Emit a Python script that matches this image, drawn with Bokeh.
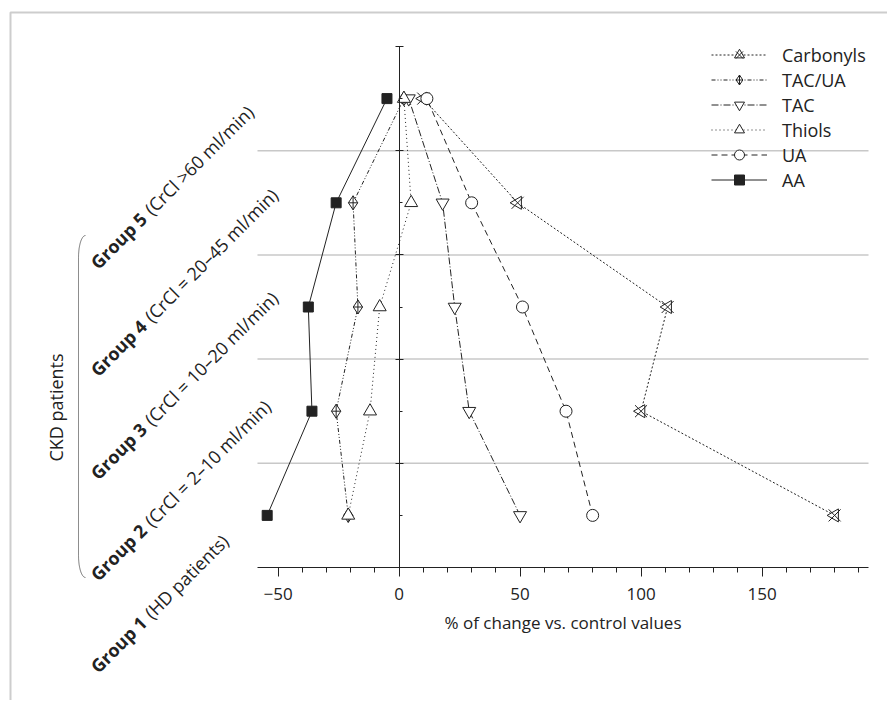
import numpy as np
from bokeh.plotting import figure
from bokeh.models import (LinearAxis, FixedTicker, Label, Legend, LegendItem,
                          PolyAnnotation, Range1d, CustomJSTickFormatter)
from bokeh.embed import file_html
from bokeh.resources import INLINE

# ---------------- data ----------------
groups = [1, 2, 3, 4, 5]
group_bold = ["Group 1", "Group 2", "Group 3", "Group 4", "Group 5"]
group_rest = ["(HD patients)", "(CrCl = 2\u201310 ml/min)", "(CrCl = 10\u201320 ml/min)",
              "(CrCl = 20\u201345 ml/min)", "(CrCl >60 ml/min)"]

carbonyls = [180, 100, 111, 49, 10]
tac_ua = [-21, -26, -17, -19, 2]
tac = [50, 29, 23, 18, 4]
thiols = [-21, -12, -8, 5, 2]
ua = [80, 69, 51, 30, 11.5]
aa = [-54.5, -36, -37.5, -26, -5]

x_ticks = [-50, 0, 50, 100, 150]
x_minor = [-40, -30, -20, -10, 10, 20, 30, 40, 60, 70, 80, 90, 110, 120, 130, 140, 160, 170, 180, 190]
y_major = [1.5, 2.5, 3.5, 4.5, 5.5]
grid_pos = [1.5, 2.5, 3.5, 4.5]

FONT = "Open Sans"
INK = "#222222"

# axis extents (data) and where the axes sit on the canvas (px)
X0, X1 = -58.5, 194
Y0, Y1 = 0.5, 5.5
W, H = 887, 700
FL, FR, FT, FB = 257, 868, 46, 567
SX = (FR - FL) / (X1 - X0)
SY = (FB - FT) / (Y1 - Y0)

p = figure(width=W, height=H,
           x_range=Range1d(X0 - FL / SX, X1 + (W - FR) / SX),
           y_range=Range1d(Y0 - (H - FB) / SY, Y1 + FT / SY),
           output_backend="svg", toolbar_location=None,
           x_axis_location=None, y_axis_location=None, min_border=0)
p.outline_line_color = None
p.grid.visible = False


def px2data(px, py):
    """canvas pixel -> data coordinates (for decorations)"""
    xs = X0 + (np.asarray(px, dtype=float) - FL) / SX
    ys = Y0 + (FB - np.asarray(py, dtype=float)) / SY
    return list(xs), list(ys)


# horizontal separators between groups
p.segment(x0=[X0] * len(grid_pos), x1=[X1] * len(grid_pos), y0=grid_pos, y1=grid_pos,
          line_color="#c8c8c8", line_width=1.5)

# x axis
xa = LinearAxis(fixed_location=Y0, bounds=(X0, X1),
                ticker=FixedTicker(ticks=x_ticks, minor_ticks=x_minor))
xa.major_label_overrides = {-50: "\u221250"}
xa.axis_line_color = INK
xa.major_tick_line_color = INK
xa.minor_tick_line_color = INK
xa.major_tick_in = 0
xa.major_tick_out = 9
xa.minor_tick_in = 0
xa.minor_tick_out = 5
xa.major_label_standoff = 11
xa.major_label_text_font = FONT
xa.major_label_text_font_size = "17px"
xa.major_label_text_color = INK
xa.axis_label = "% of change vs. control values"
xa.axis_label_text_font = FONT
xa.axis_label_text_font_style = "normal"
xa.axis_label_text_font_size = "17px"
xa.axis_label_text_color = INK
xa.axis_label_standoff = 8
p.add_layout(xa, "below")

# y axis through x = 0
ya = LinearAxis(fixed_location=0, bounds=(Y0, Y1),
                ticker=FixedTicker(ticks=y_major, minor_ticks=groups),
                formatter=CustomJSTickFormatter(code="return ''"),
                major_tick_in=4, major_tick_out=4, minor_tick_in=3, minor_tick_out=0,
                axis_line_color=INK, major_tick_line_color=INK, minor_tick_line_color=INK)
p.add_layout(ya, "left")

series = [
    ("Carbonyls", carbonyls, "2 2"),
    ("TAC/UA", tac_ua, "4 2 1 2 1 2"),
    ("TAC", tac, "7 2 1 2"),
    ("Thiols", thiols, "1 3"),
    ("UA", ua, "6 4"),
    ("AA", aa, "solid"),
]
items = []
for name, vals, dash in series:
    lr = p.line(vals, groups, line_color=INK, line_width=1, line_dash=dash)
    rs = [lr]
    if name == "Carbonyls":
        rs.append(p.scatter(vals, groups, marker="triangle", angle=np.pi / 2, size=13,
                            fill_color="white", line_color=INK, line_width=1))
        rs.append(p.scatter(vals, groups, marker="x", size=17, line_color=INK, line_width=1))
    elif name == "TAC/UA":
        rs.append(p.scatter(vals, groups, marker="diamond_cross", size=14,
                            fill_color="white", line_color=INK, line_width=1))
    elif name == "TAC":
        rs.append(p.scatter(vals, groups, marker="inverted_triangle", size=13,
                            fill_color="white", line_color=INK, line_width=1))
    elif name == "Thiols":
        rs.append(p.scatter(vals, groups, marker="triangle", size=13,
                            fill_color="white", line_color=INK, line_width=1))
    elif name == "UA":
        rs.append(p.scatter(vals, groups, marker="circle", size=12,
                            fill_color="white", line_color=INK, line_width=1))
    else:
        rs.append(p.scatter(vals, groups, marker="square", size=10,
                            fill_color=INK, line_color=INK, line_width=1))
    items.append(LegendItem(label=name, renderers=rs))

LEG_GH = 25
leg_h = len(items) * LEG_GH
leg_top = 42
legend = Legend(items=items, location=(711, H - leg_top - leg_h), border_line_color=None,
                background_fill_alpha=0, glyph_width=56, glyph_height=LEG_GH,
                label_height=LEG_GH, label_standoff=15, spacing=0, padding=0, margin=0,
                label_text_font=FONT, label_text_font_size="18px", label_text_color=INK)
p.add_layout(legend)

# group labels (rotated 45 deg, left of the axes)
LBL_X, BOLD_DX = 93, 54
label_drop = [154, 166, 169, 170, 167]   # px from group centre down to label start
for g, b, r, d in zip(groups, group_bold, group_rest, label_drop):
    lx, ly = px2data([LBL_X], [FB - (g - Y0) * SY + d])
    p.add_layout(Label(x=lx[0], y=ly[0], text=b, angle=45,
                       angle_units="deg", text_font=FONT, text_font_style="bold",
                       text_font_size="18px", text_color=INK, text_align="left",
                       text_baseline="alphabetic"))
    p.add_layout(Label(x=lx[0], y=ly[0], x_offset=BOLD_DX, y_offset=BOLD_DX, text=r, angle=45,
                       angle_units="deg", text_font=FONT, text_font_style="normal",
                       text_font_size="18px", text_color=INK, text_align="left",
                       text_baseline="alphabetic"))

cx, cy = px2data([55], [407])
p.add_layout(Label(x=cx[0], y=cy[0], text="CKD patients",
                   angle=90, angle_units="deg", text_font=FONT, text_font_size="18px",
                   text_color=INK, text_align="center", text_baseline="middle"))

# bracket for CKD patients
t = np.linspace(0, np.pi / 2, 12)
bx = list(78 + 7 * (1 - np.sin(t)))
by = list(257 - 22 * np.cos(t))
bx2 = list(78 + 7 * (1 - np.cos(t)))
by2 = list(555 + 22 * np.sin(t))
br_x = bx + bx2
br_y = by + by2
dx, dy = px2data(br_x + br_x[::-1], br_y + br_y[::-1])
p.add_layout(PolyAnnotation(xs=dx, ys=dy, fill_alpha=0, line_color=INK, line_width=1))

# outer frame lines (top and left)
fx, fy = px2data([10, 10, 900, 10], [720, 12, 12, 12])
p.add_layout(PolyAnnotation(xs=fx, ys=fy, fill_alpha=0, line_color="#5a5a5a", line_width=2))

open("out.html", "w").write(file_html(p, INLINE))
